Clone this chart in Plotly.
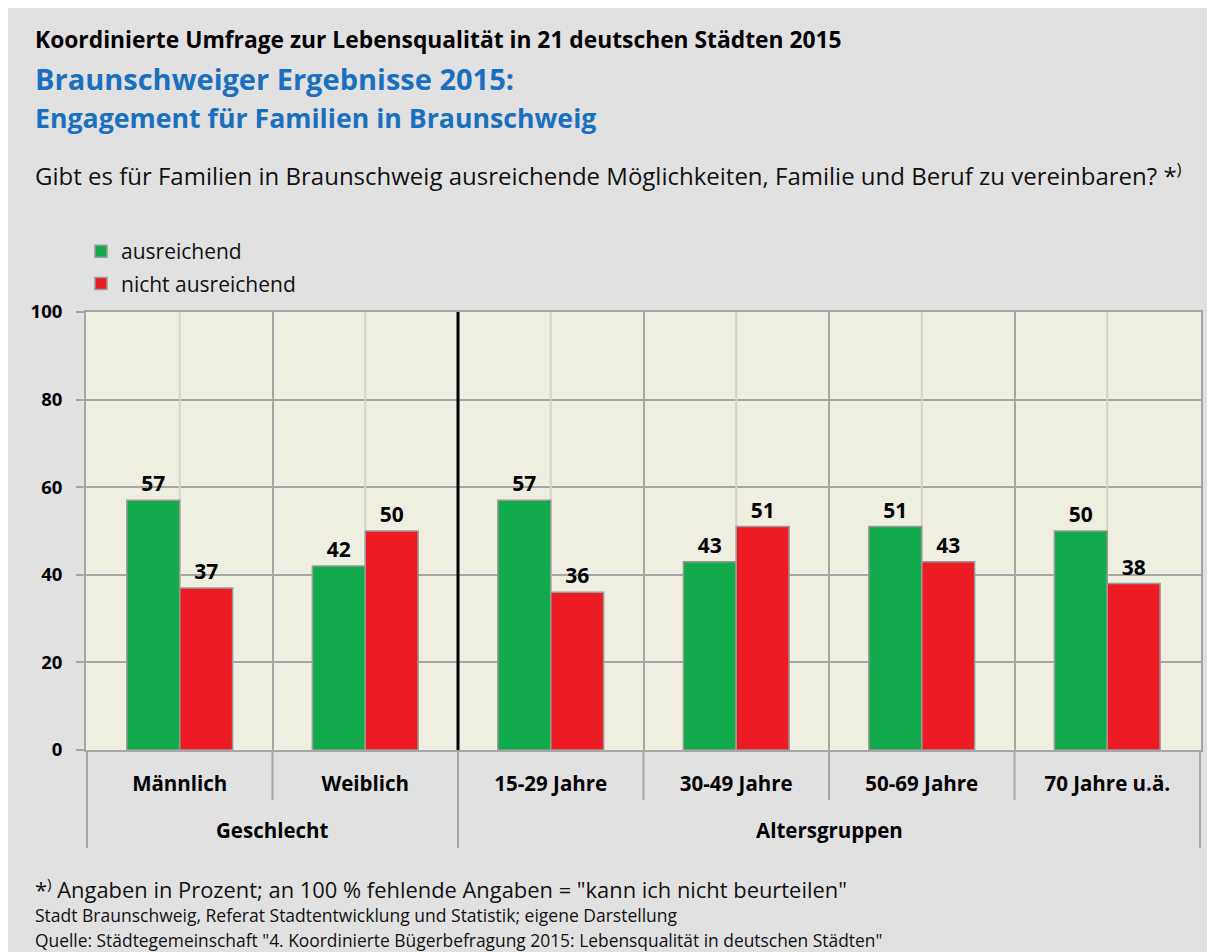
import plotly.graph_objects as go

categories = ["Männlich", "Weiblich", "15-29 Jahre", "30-49 Jahre", "50-69 Jahre", "70 Jahre u.ä."]
ausreichend = [57, 42, 57, 43, 51, 50]
nicht_ausreichend = [37, 50, 36, 51, 43, 38]
groups = [("Geschlecht", 0.5), ("Altersgruppen", 3.5)]
y_ticks = [0, 20, 40, 60, 80, 100]

# page body has an 8px margin; figure fills the rest of the window
OFF = 8
W, H = 1215 - OFF, 952 - OFF
L, R, T, B = 78, 14, 304, 202
PW, PH = W - L - R, H - T - B


def px(p):
    return (p - OFF - L) / PW


def py(p):
    return (H - B - (p - OFF)) / PH


FONT = "Open Sans"
GREEN = "#12ab4b"
RED = "#ed1c24"
BLUE = "#1a70be"
GRID = "#a6a6a6"

fig = go.Figure()
fig.add_trace(go.Bar(
    x=categories, y=ausreichend, name="ausreichend", legendgroup="a",
    marker=dict(color=GREEN, line=dict(color="#999999", width=1.5)),
    text=ausreichend, textposition="outside", cliponaxis=False,
    textfont=dict(family=FONT, size=21, color="black", weight="bold"),
))
fig.add_trace(go.Bar(
    x=categories, y=nicht_ausreichend, name="nicht ausreichend", legendgroup="b",
    marker=dict(color=RED, line=dict(color="#999999", width=1.5)),
    text=nicht_ausreichend, textposition="outside", cliponaxis=False,
    textfont=dict(family=FONT, size=21, color="black", weight="bold"),
))

shapes = []
for i in range(len(categories)):
    shapes.append(dict(type="line", xref="x", yref="y", x0=i, x1=i, y0=0, y1=100,
                       line=dict(color="#d3d3d0", width=2), layer="between"))
shapes.append(dict(type="line", xref="x", yref="y", x0=1.5, x1=1.5, y0=0, y1=100,
                   line=dict(color="black", width=3), layer="above"))
for b in [0.5, 2.5, 3.5, 4.5]:
    shapes.append(dict(type="line", xref="x", yref="paper", x0=b, x1=b, y0=0, y1=py(800),
                       line=dict(color=GRID, width=2)))
for b in [-0.5, 1.5, 5.5]:
    shapes.append(dict(type="line", xref="x", yref="paper", x0=b, x1=b, y0=0, y1=py(848),
                       line=dict(color=GRID, width=2)))

annotations = [
    dict(text="<b>Koordinierte Umfrage zur Lebensqualität in 21 deutschen Städten 2015</b>",
         x=px(33), y=py(39), font=dict(size=22.8, color="black")),
    dict(text="<b>Braunschweiger Ergebnisse 2015:</b>", x=px(33), y=py(78),
         font=dict(size=29, color=BLUE)),
    dict(text="<b>Engagement für Familien in Braunschweig</b>", x=px(33), y=py(117),
         font=dict(size=26.7, color=BLUE)),
    dict(text="Gibt es für Familien in Braunschweig ausreichende Möglichkeiten, Familie und Beruf zu vereinbaren? *<sup>)</sup>",
         x=px(33), y=py(175), font=dict(size=24, color="#111111")),
    dict(text="*<sup>)</sup> Angaben in Prozent; an 100 % fehlende Angaben = \"kann ich nicht beurteilen\"",
         x=px(33), y=py(888), font=dict(size=21.9, color="#111111")),
    dict(text="Stadt Braunschweig, Referat Stadtentwicklung und Statistik; eigene Darstellung",
         x=px(33), y=py(915), font=dict(size=17.5, color="#111111")),
    dict(text="Quelle: Städtegemeinschaft \"4. Koordinierte Bügerbefragung 2015: Lebensqualität in deutschen Städten\"",
         x=px(33), y=py(940), font=dict(size=17.4, color="#111111")),
]
for a in annotations:
    a.update(xref="paper", yref="paper", xanchor="left", yanchor="middle", showarrow=False)
for name, pos in groups:
    annotations.append(dict(text=f"<b>{name}</b>", xref="x", yref="paper", x=pos, y=py(830),
                            xanchor="center", yanchor="middle", showarrow=False,
                            font=dict(size=20.5, color="black")))

fig.update_layout(
    width=W, height=H,
    margin=dict(l=L, r=R, t=T, b=B, pad=0),
    paper_bgcolor="#e1e1e1", plot_bgcolor="#eeeee1",
    font=dict(family=FONT, color="black"),
    barmode="group", bargap=0.43, bargroupgap=0,
    showlegend=True,
    legend=dict(x=px(81), y=py(231), xanchor="left", yanchor="top", bgcolor="rgba(0,0,0,0)",
                font=dict(size=21, color="#111111"), tracegroupgap=2, itemwidth=30),
    shapes=shapes, annotations=annotations,
    xaxis=dict(type="category", tickson="boundaries", showgrid=True, gridcolor=GRID, gridwidth=2,
               showline=True, linecolor=GRID, linewidth=2, mirror=True, ticks="",
               tickfont=dict(size=20.5, color="black", weight="bold"), ticklabelstandoff=14,
               fixedrange=True),
    yaxis=dict(range=[0, 100], tickvals=y_ticks, showgrid=True, gridcolor=GRID, gridwidth=2,
               zeroline=False, showline=True, linecolor=GRID, linewidth=2, mirror=True,
               ticks="outside", ticklen=8, tickcolor=GRID, tickwidth=2,
               tickfont=dict(size=18.5, color="black", weight="bold"), ticklabelstandoff=10,
               fixedrange=True),
)

fig.write_html("out.html")
